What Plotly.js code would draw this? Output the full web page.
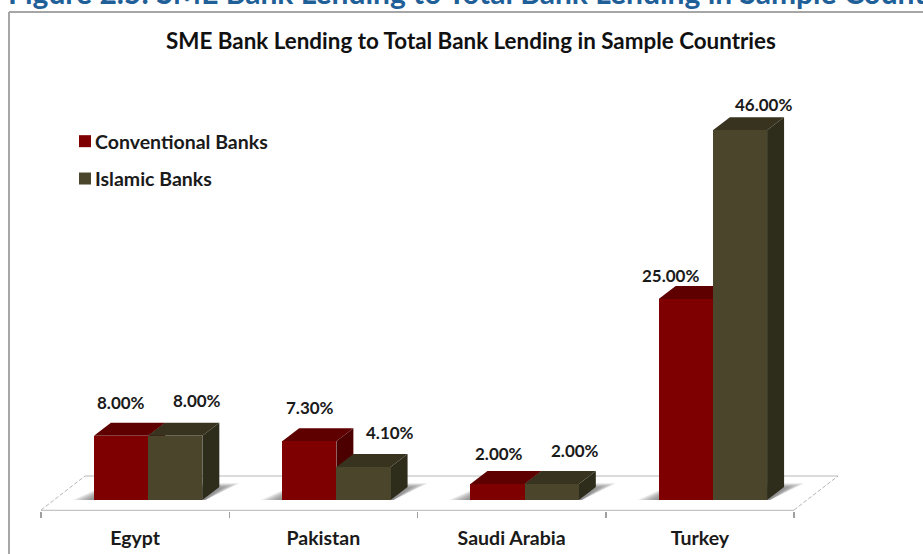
<!DOCTYPE html>
<html>
<head>
<meta charset="utf-8">
<script src="https://cdn.plot.ly/plotly-3.0.1.min.js"></script>
<style>html,body{margin:0;padding:0;background:#fff;overflow:hidden}#chart{width:923px;height:554px}</style>
</head>
<body>
<div id="chart"></div>
<script>
// SME lending share by country and bank type (percent)
const countries = ['Egypt', 'Pakistan', 'Saudi Arabia', 'Turkey'];
const conventional = [8.0, 7.3, 2.0, 25.0];
const islamic = [8.0, 4.1, 2.0, 46.0];

const heading = 'Figure 2.5: SME Bank Lending to Total Bank Lending in Sample Countries';
const chartTitle = 'SME Bank Lending to Total Bank Lending in Sample Countries';

// Pixel frame of the plotting area and the scale of both axes
const W = 923, H = 554;
const plot = {left: 20, right: 860, top: 60, bottom: 511};
const pxPerCat = 188.25, pxPerPct = 8.04;
const axisStart = 41, baseline = 500;
const toX = px => (px - axisStart) / pxPerCat - 0.5;
const toY = px => (baseline - px) / pxPerPct;

// Extruded look: how far the top and side faces recede, in axis units
const depthX = 17 / pxPerCat, depthY = 13 / pxPerPct;
const barW = 54.2 / pxPerCat, groupShift = 13 / pxPerCat;

const RED = {front: '#7f0000', top: '#5e0000', side: '#4c0000'};
const OLIVE = {front: '#4b452c', top: '#38331f', side: '#2e2c1b'};
const FONT = 'Lato, "Open Sans", sans-serif';

const poly = (pts, fill, line) => ({
  type: 'path', xref: 'x', yref: 'y', layer: 'below',
  path: 'M' + pts.map(p => p[0] + ',' + p[1]).join('L') + 'Z',
  fillcolor: fill, line: line || {width: 0}
});
const seg = (x0, y0, x1, y1, color, width, dash) => ({
  type: 'line', xref: 'x', yref: 'y', layer: 'below', x0, y0, x1, y1,
  line: {color, width, dash: dash || 'solid'}
});

// Floor of the chart
const floorShapes = [
  poly([[toX(41), toY(510)], [toX(85), toY(476)], [toX(838), toY(476)], [toX(794), toY(510)]], '#ffffff'),
  seg(toX(85), toY(476), toX(838), toY(476), '#cfcfcf', 1.5),
  seg(toX(41), toY(510), toX(85), toY(476), '#b5b5b5', 1, '4px,2px'),
  seg(toX(794), toY(510), toX(838), toY(476), '#b5b5b5', 1, '4px,2px'),
  seg(toX(41), toY(511), toX(794), toY(511), '#c4c4c4', 2.5)
];

// Soft cast shadow under each bar group, stacked from wide and faint to narrow
function shadow(i) {
  const l = i + groupShift - barW, r = i + groupShift + barW;
  const out = [];
  for (let k = 0; k < 9; k++) {
    const g = (8 - k) * 2.4 / pxPerCat, gy = (8 - k) * 0.6 / pxPerPct;
    out.push(poly([
      [l - 2 / pxPerCat - g, 0],
      [r + 3 / pxPerCat, 0],
      [r + 18 / pxPerCat + g, toY(488) + gy],
      [l + 16 / pxPerCat, toY(488) + gy]
    ], 'rgba(90,90,90,0.11)'));
  }
  return out;
}

// Side and top faces behind one bar
function faces(x0, x1, v, c) {
  return [
    poly([[x1, 0], [x1 + depthX, depthY], [x1 + depthX, v + depthY], [x1, v]], c.side),
    poly([[x0, v], [x0 + depthX, v + depthY], [x1 + depthX, v + depthY], [x1, v]], c.top)
  ];
}

const frameX = (9 - plot.left) / (plot.right - plot.left);
const frameY = (plot.bottom - 12) / (plot.bottom - plot.top);
const shapes = [
  {type: 'line', xref: 'paper', yref: 'paper', x0: frameX, x1: 1.1, y0: frameY, y1: frameY,
   line: {color: '#a6a6a6', width: 2}},
  {type: 'line', xref: 'paper', yref: 'paper', x0: frameX, x1: frameX, y0: frameY, y1: -0.12,
   line: {color: '#a6a6a6', width: 2}},
  ...floorShapes
];
countries.forEach((_, i) => shapes.push(...shadow(i)));
countries.forEach((_, i) => {
  const mid = i + groupShift;
  shapes.push(...faces(mid - barW, mid, conventional[i], RED));
  shapes.push(...faces(mid, mid + barW, islamic[i], OLIVE));
});

// Label nudges in pixels relative to the top of each bar's front face, [dx, dy]
const redShift = [[0, 33], [1, 34], [1, 30], [-15, 24]];
const oliveShift = [[22, 35], [27, 35], [23, 33], [24, 26]];

const valueLabel = (x, v, shift) => ({
  x, y: v, xref: 'x', yref: 'y', text: v.toFixed(2) + '%', showarrow: false,
  xanchor: 'center', yanchor: 'middle', xshift: shift[0], yshift: shift[1],
  font: {family: FONT, size: 17, color: '#1a1a1a', weight: 700}
});

const annotations = [
  {text: heading, xref: 'paper', yref: 'paper', showarrow: false, xanchor: 'left', yanchor: 'bottom',
   x: -14 / (plot.right - plot.left), y: (plot.bottom - 12) / (plot.bottom - plot.top),
   font: {family: FONT, size: 30, color: '#1f6098', weight: 700}},
  {text: chartTitle, xref: 'paper', yref: 'paper', showarrow: false, xanchor: 'center', yanchor: 'middle',
   x: (471 - plot.left) / (plot.right - plot.left), y: (plot.bottom - 41) / (plot.bottom - plot.top),
   font: {family: FONT, size: 22.4, color: '#111111', weight: 700}}
];
countries.forEach((_, i) => {
  const mid = i + groupShift;
  annotations.push(valueLabel(mid - barW / 2, conventional[i], redShift[i]));
  annotations.push(valueLabel(mid + barW / 2, islamic[i], oliveShift[i]));
});

const idx = countries.map((_, i) => i);
const traces = [
  {type: 'bar', name: 'Conventional Banks', legendgroup: 'a', x: idx.map(i => i + groupShift), y: conventional,
   width: barW, offset: -barW, marker: {color: RED.front, line: {width: 0}}, hoverinfo: 'skip'},
  {type: 'bar', name: 'Islamic Banks', legendgroup: 'b', x: idx.map(i => i + groupShift), y: islamic,
   width: barW, offset: 0, marker: {color: OLIVE.front, line: {width: 0}}, hoverinfo: 'skip'}
];

const layout = {
  width: W, height: H, paper_bgcolor: '#ffffff', plot_bgcolor: 'rgba(0,0,0,0)',
  margin: {l: plot.left, r: W - plot.right, t: plot.top, b: H - plot.bottom, pad: 0},
  barmode: 'overlay', bargap: 0,
  showlegend: true,
  legend: {
    x: (55 - plot.left) / (plot.right - plot.left), xanchor: 'left',
    y: (plot.bottom - 122) / (plot.bottom - plot.top), yanchor: 'top',
    traceorder: 'grouped', tracegroupgap: 9, bgcolor: 'rgba(0,0,0,0)', borderwidth: 0,
    font: {family: FONT, size: 19.5, color: '#1a1a1a', weight: 700}
  },
  xaxis: {
    type: 'linear', range: [toX(plot.left), toX(plot.right)], showgrid: false, zeroline: false, showline: false,
    tickmode: 'array', tickvals: idx, ticktext: countries, ticks: '', ticklabelstandoff: 13,
    tickfont: {family: FONT, size: 19.5, color: '#1a1a1a', weight: 700},
    minor: {tickmode: 'array', tickvals: [-0.5, 0.5, 1.5, 2.5, 3.5], ticks: 'outside', ticklen: 6, tickwidth: 1.5, tickcolor: '#a0a0a0', showgrid: false}
  },
  yaxis: {range: [toY(plot.bottom), toY(plot.top)], visible: false, showgrid: false, zeroline: false, fixedrange: true},
  shapes, annotations
};

Plotly.newPlot('chart', traces, layout, {displayModeBar: false, staticPlot: true}).then(() => {
  // Tighten the gap between legend swatches and their labels
  document.querySelectorAll('.legend .legendpoints').forEach(n => {
    n.setAttribute('transform', 'translate(10,0)');
  });
});
</script>
</body>
</html>
